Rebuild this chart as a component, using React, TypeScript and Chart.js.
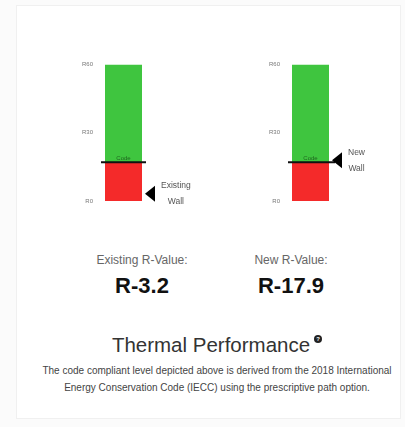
import React, { useEffect, useRef } from "react";
import { Chart, registerables } from "chart.js";

Chart.register(...registerables);

// ---- data ----
const tickValues = [0, 30, 60];
const tickPrefix = "R";
const scaleMax = 60;
const codeValue = 17;
const wallNames = ["Existing Wall", "New Wall"];
const wallLabelLines = [["Existing", "Wall"], ["New", "Wall"]];
const wallValues = [3.2, 17.9];
const valueCaptions = ["Existing R-Value:", "New R-Value:"];
const valueTexts = ["R-3.2", "R-17.9"];
const belowCode = [codeValue];
const aboveCode = [scaleMax - codeValue];

const FONT = "'Liberation Sans', Arial, Helvetica, sans-serif";

const markerPlugin = {
  id: "wallMarker",
  afterDatasetsDraw(chart: any, _args: any, opts: any) {
    const { ctx } = chart;
    const y = chart.scales.y;
    const meta = chart.getDatasetMeta(0);
    const bar = meta.data[0];
    const half = bar.width / 2;
    const left = bar.x - half;
    const right = bar.x + half;
    const yCode = y.getPixelForValue(opts.code);
    const yWall = y.getPixelForValue(opts.wall);
    ctx.save();
    // code line
    ctx.strokeStyle = "#111";
    ctx.lineWidth = 2;
    ctx.beginPath();
    ctx.moveTo(left - 4, yCode);
    ctx.lineTo(opts.joinArrow ? right + 6 : right + 4, yCode);
    ctx.stroke();
    // code label
    ctx.fillStyle = "rgba(20,70,20,0.75)";
    ctx.font = `6px ${FONT}`;
    ctx.textAlign = "center";
    ctx.textBaseline = "alphabetic";
    ctx.fillText("Code", bar.x, yCode - 2.5);
    // arrow
    const tip = right + 3;
    ctx.fillStyle = "#000";
    ctx.beginPath();
    ctx.moveTo(tip, yWall);
    ctx.lineTo(tip + 10, yWall - 8);
    ctx.lineTo(tip + 10, yWall + 8);
    ctx.closePath();
    ctx.fill();
    // wall label
    ctx.font = `8.5px ${FONT}`;
    ctx.fillStyle = "#555";
    const lines: string[] = opts.lines;
    const maxW = Math.max(...lines.map((l) => ctx.measureText(l).width));
    const cx = right + 19 + maxW / 2;
    ctx.textBaseline = "middle";
    ctx.fillText(lines[0], cx, yWall - 8);
    ctx.fillText(lines[1], cx, yWall + 8);
    ctx.restore();
  },
};

function Gauge({ idx, left }: { idx: number; left: number }) {
  const ref = useRef<HTMLCanvasElement>(null);
  useEffect(() => {
    if (!ref.current) return;
    const chart = new Chart(ref.current, {
      type: "bar",
      data: {
        labels: [wallNames[idx]],
        datasets: [
          {
            data: belowCode,
            backgroundColor: "#f42a2a",
            barPercentage: 37 / 47,
            categoryPercentage: 1,
          },
          {
            data: aboveCode,
            backgroundColor: "#3fc53f",
            barPercentage: 37 / 47,
            categoryPercentage: 1,
          },
        ],
      },
      options: {
        responsive: false,
        animation: false,
        devicePixelRatio: 1,
        layout: { padding: { left: 20, right: 63, top: 10, bottom: 13 } },
        plugins: {
          legend: { display: false },
          tooltip: { enabled: false },
          wallMarker: {
            code: codeValue,
            wall: wallValues[idx],
            lines: wallLabelLines[idx],
            joinArrow: idx === 1,
          },
        } as any,
        scales: {
          x: { display: false, stacked: true },
          y: {
            stacked: true,
            min: 0,
            max: scaleMax,
            afterFit: (s: any) => {
              s.width = 20;
            },
            afterBuildTicks: (s: any) => {
              s.ticks = tickValues.map((v) => ({ value: v }));
            },
            ticks: {
              callback: (v: any) => tickPrefix + v,
              font: { size: 6, family: FONT },
              color: "#777",
              padding: 7,
            },
            grid: { display: false, drawTicks: false },
            border: { display: false },
          },
        },
      },
      plugins: [markerPlugin],
    });
    return () => chart.destroy();
  }, [idx]);
  return (
    <canvas
      ref={ref}
      width={150}
      height={160}
      style={{ position: "absolute", left, top: 54, width: 150, height: 160 }}
    />
  );
}

export default function App() {
  const centers = [142, 291];
  return (
    <div
      style={{
        position: "absolute",
        left: 0,
        top: 0,
        width: 405,
        height: 427,
        background: "#fbfbfb",
        fontFamily: FONT,
        overflow: "hidden",
      }}
    >
      <div
        style={{
          position: "absolute",
          left: 16,
          top: 5,
          width: 383,
          height: 412,
          background: "#fff",
          border: "1px solid #f0f0f0",
        }}
      />
      <Gauge idx={0} left={60} />
      <Gauge idx={1} left={247} />
      {centers.map((c, i) => (
        <div
          key={i}
          style={{
            position: "absolute",
            left: c - 80,
            width: 160,
            top: 252,
            textAlign: "center",
          }}
        >
          <div style={{ fontSize: 12, lineHeight: "16px", color: "#666" }}>
            {valueCaptions[i]}
          </div>
          <div
            style={{
              fontSize: 22,
              fontWeight: "bold",
              lineHeight: "26px",
              color: "#111",
              marginTop: 5,
            }}
          >
            {valueTexts[i]}
          </div>
        </div>
      ))}
      <div
        style={{
          position: "absolute",
          left: 17,
          width: 400,
          top: 332,
          textAlign: "center",
          fontSize: 20.5,
          lineHeight: "26px",
          color: "#333",
        }}
      >
        Thermal Performance
        <span
          style={{
            display: "inline-block",
            width: 8,
            height: 8,
            borderRadius: 4,
            background: "#222",
            color: "#fff",
            fontSize: 6,
            lineHeight: "8px",
            textAlign: "center",
            fontWeight: "bold",
            marginLeft: 4,
            verticalAlign: "top",
            marginTop: 3,
          }}
        >
          ?
        </span>
      </div>
      <div
        style={{
          position: "absolute",
          left: 17,
          width: 400,
          top: 362,
          textAlign: "center",
          fontSize: 10,
          lineHeight: "17px",
          color: "#444",
          whiteSpace: "nowrap",
        }}
      >
        The code compliant level depicted above is derived from the 2018 International
        <br />
        Energy Conservation Code (IECC) using the prescriptive path option.
      </div>
    </div>
  );
}
